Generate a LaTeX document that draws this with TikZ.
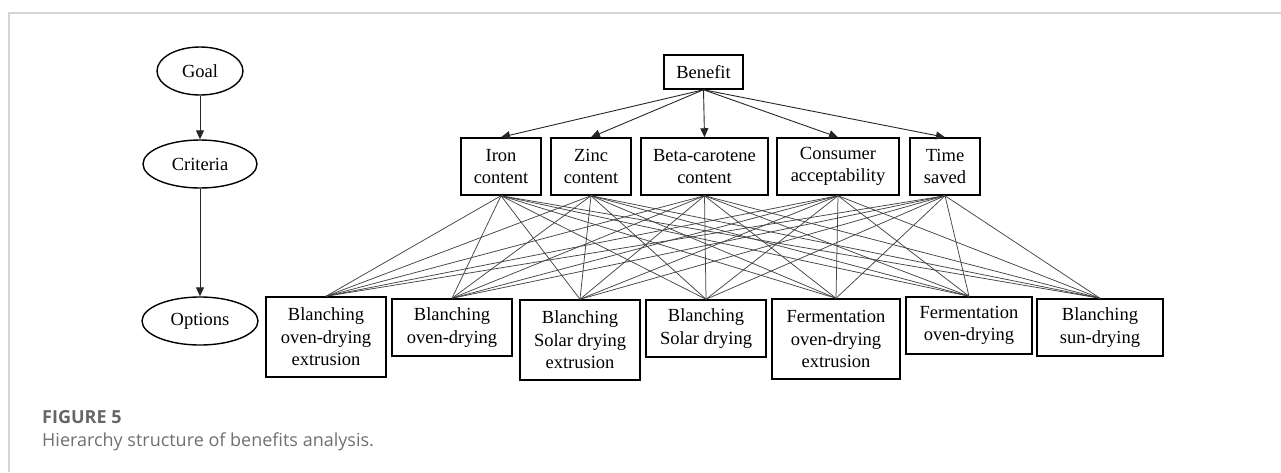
\documentclass[tikz,border=0pt]{standalone}
\usepackage{fontspec}
\setmainfont{Liberation Serif}
\newfontfamily\capfont{Open Sans}
\usetikzlibrary{arrows.meta,shapes.geometric}
\definecolor{framegray}{HTML}{D4D4D4}
\definecolor{figgray}{HTML}{666666}
\definecolor{capgray}{HTML}{707070}
\definecolor{linkgray}{HTML}{444444}
\tikzset{
  lvl/.style={draw, ellipse, line width=1.4pt, inner sep=0pt, font=\fontsize{18.5}{22.5}\selectfont},
  box/.style={draw, rectangle, line width=1.5pt, inner sep=0pt, align=center, font=\fontsize{18.5}{22.5}\selectfont},
  arr/.style={-{Triangle[length=9pt,width=8pt]}, line width=0.9pt, draw=black!85},
  link/.style={line width=0.75pt, draw=linkgray},
}
\begin{document}
\begin{tikzpicture}[x=1pt,y=-1pt]
\useasboundingbox (0,0) rectangle (1281,472);
% frame
\draw[framegray, line width=1.4pt] (1281,13) -- (9,13) -- (9,472);
% level ellipses
\node[lvl, minimum width=86pt, minimum height=48pt] (goal) at (200,71) {Goal};
\node[lvl, minimum width=114pt, minimum height=48pt] (crit) at (200,164) {Criteria};
\node[lvl, minimum width=116pt, minimum height=48pt] (opt) at (200,321) {Options};
\draw[arr] (goal) -- (crit);
\draw[arr] (crit) -- (opt);
% goal box
\node[box, minimum width=79pt, minimum height=34pt] (ben) at (703.5,72) {Benefit};
% criteria
\node[box, minimum width=80pt, minimum height=57pt] (c1) at (501,166.5) {Iron\\content};
\node[box, minimum width=80pt, minimum height=57pt] (c2) at (591,166.5) {Zinc\\content};
\node[box, minimum width=127pt, minimum height=57pt] (c3) at (704.5,166.5) {Beta-carotene\\content};
\node[box, minimum width=122pt, minimum height=57pt] (c4) at (838,166.5) {Consumer\\acceptability};
\node[box, minimum width=70pt, minimum height=57pt] (c5) at (945,166.5) {Time\\saved};
% options
\node[box, minimum width=120pt, minimum height=80pt] (o1) at (326,337) {Blanching\\oven-drying\\extrusion};
\node[box, minimum width=120pt, minimum height=57pt] (o2) at (452,327.5) {Blanching\\oven-drying};
\node[box, minimum width=120pt, minimum height=80pt] (o3) at (580,340) {Blanching\\Solar drying\\extrusion};
\node[box, minimum width=120pt, minimum height=57pt] (o4) at (706,328.5) {Blanching\\Solar drying};
\node[box, minimum width=128pt, minimum height=80pt] (o5) at (836,339) {Fermentation\\oven-drying\\extrusion};
\node[box, minimum width=126pt, minimum height=57pt] (o6) at (969,325.5) {Fermentation\\oven-drying};
\node[box, minimum width=126pt, minimum height=57pt] (o7) at (1100,327.5) {Blanching\\sun-drying};
% benefit -> criteria
\foreach \c in {c1,c2,c3,c4,c5} \draw[arr] (ben.south) -- (\c.north);
% criteria -> options
\foreach \c in {c1,c2,c3,c4,c5}
  \foreach \o in {o1,o2,o3,o4,o5,o6,o7}
    \draw[link] (\c.south) -- (\o.north);
% caption
\node[anchor=base west, inner sep=0pt, text=figgray, font=\capfont\bfseries\fontsize{18}{22}\selectfont] (fig) at (42,423.5) {FIGURE 5};
\node[anchor=base west, inner sep=0pt, text=capgray, font=\capfont\fontsize{18}{22}\selectfont] (cap) at (42,446) {Hierarchy structure of benefits analysis.};
\end{tikzpicture}
\end{document}
